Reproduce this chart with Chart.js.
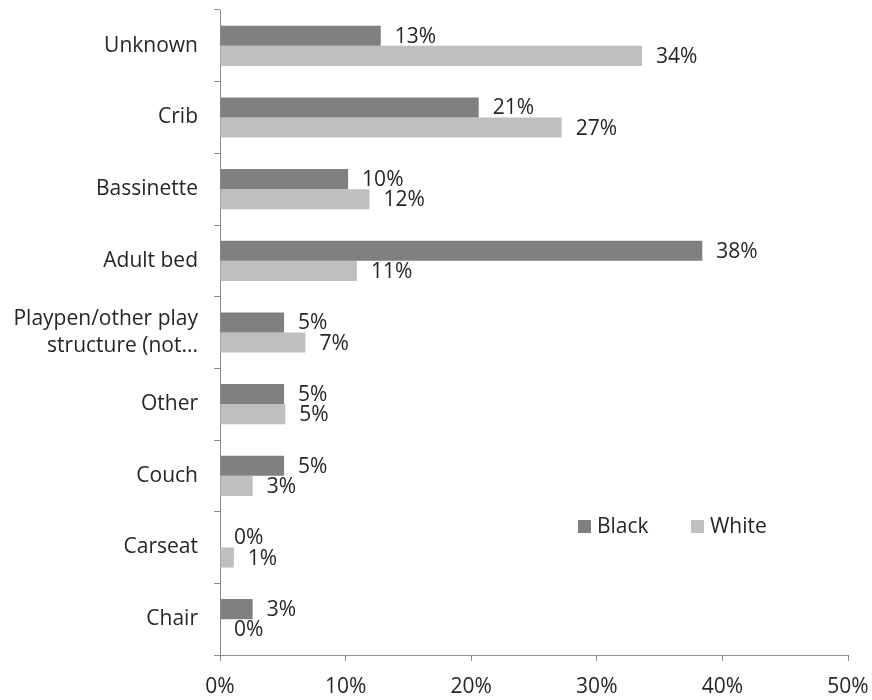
<!DOCTYPE html>
<html>
<head>
<meta charset="utf-8">
<script src="https://cdn.jsdelivr.net/npm/chart.js@4"></script>
<style>
  html, body { margin: 0; padding: 0; background: #fff; }
  #wrap { width: 872px; height: 700px; }
</style>
</head>
<body>
<div id="wrap"><canvas id="placeChart"></canvas></div>
<script>
const categories = [
  "Unknown",
  "Crib",
  "Bassinette",
  "Adult bed",
  ["Playpen/other play", "structure (not..."],
  "Other",
  "Couch",
  "Carseat",
  "Chair",
];
const blackValues = [12.8, 20.6, 10.2, 38.4, 5.1, 5.1, 5.1, 0, 2.6];
const whiteValues = [33.6, 27.2, 11.9, 10.9, 6.8, 5.2, 2.6, 1.1, 0];
const xTicks = [0, 10, 20, 30, 40, 50];

const FONT = "'Open Sans', 'Noto Sans', sans-serif";
const SIZE = 21;
const TEXT = "#262626";
const AXIS = "#8c8c8c";

// value labels at the end of each bar
const barLabels = {
  id: "barLabels",
  afterDatasetsDraw(chart) {
    const ctx = chart.ctx;
    ctx.save();
    ctx.font = SIZE + "px " + FONT;
    ctx.fillStyle = TEXT;
    ctx.textBaseline = "middle";
    ctx.textAlign = "left";
    chart.data.datasets.forEach((ds, i) => {
      chart.getDatasetMeta(i).data.forEach((bar, j) => {
        ctx.fillText(Math.round(ds.data[j]) + "%", bar.x + 14, bar.y + 1);
      });
    });
    ctx.restore();
  },
};

// legend sitting inside the plot, lower right
const insideLegend = {
  id: "insideLegend",
  afterDraw(chart) {
    const ctx = chart.ctx;
    const x0 = chart.scales.x.getPixelForValue(28.5);
    const y = 526;
    ctx.save();
    ctx.font = SIZE + "px " + FONT;
    ctx.textBaseline = "middle";
    let x = x0;
    chart.data.datasets.forEach((ds) => {
      ctx.fillStyle = ds.backgroundColor;
      ctx.fillRect(x, y - 6, 13, 13);
      ctx.fillStyle = TEXT;
      ctx.fillText(ds.label, x + 19, y + 1);
      x += 113;
    });
    ctx.restore();
  },
};

new Chart(document.getElementById("placeChart"), {
  type: "bar",
  data: {
    labels: categories,
    datasets: [
      {
        label: "Black",
        data: blackValues,
        backgroundColor: "#808080",
        barPercentage: 1,
        categoryPercentage: 0.56,
      },
      {
        label: "White",
        data: whiteValues,
        backgroundColor: "#bfbfbf",
        barPercentage: 1,
        categoryPercentage: 0.56,
      },
    ],
  },
  options: {
    indexAxis: "y",
    responsive: true,
    maintainAspectRatio: false,
    animation: false,
    layout: { autoPadding: false, padding: { top: 10, right: 24, left: 0, bottom: 0 } },
    plugins: {
      legend: { display: false },
      tooltip: { enabled: false },
    },
    scales: {
      x: {
        min: 0,
        max: 50,
        afterBuildTicks(scale) {
          scale.ticks = xTicks.map((v) => ({ value: v }));
        },
        afterFit(scale) {
          scale.height = 45;
          scale.paddingLeft = 0;
          scale.paddingRight = 0;
        },
        border: { color: AXIS, width: 1 },
        grid: {
          drawOnChartArea: false,
          drawTicks: true,
          tickLength: 6,
          color: AXIS,
        },
        ticks: {
          color: TEXT,
          font: { family: FONT, size: SIZE },
          padding: 13,
          maxRotation: 0,
          callback: (v) => v + "%",
        },
      },
      y: {
        afterFit(scale) {
          scale.width = 220;
          scale.paddingTop = 0;
          scale.paddingBottom = 0;
        },
        border: { color: AXIS, width: 1 },
        grid: {
          drawOnChartArea: false,
          drawTicks: true,
          tickLength: 6,
          color: AXIS,
          offset: true,
        },
        ticks: {
          color: TEXT,
          font: { family: FONT, size: SIZE, lineHeight: 1.3 },
          padding: 16,
        },
      },
    },
  },
  plugins: [barLabels, insideLegend],
});
</script>
</body>
</html>
